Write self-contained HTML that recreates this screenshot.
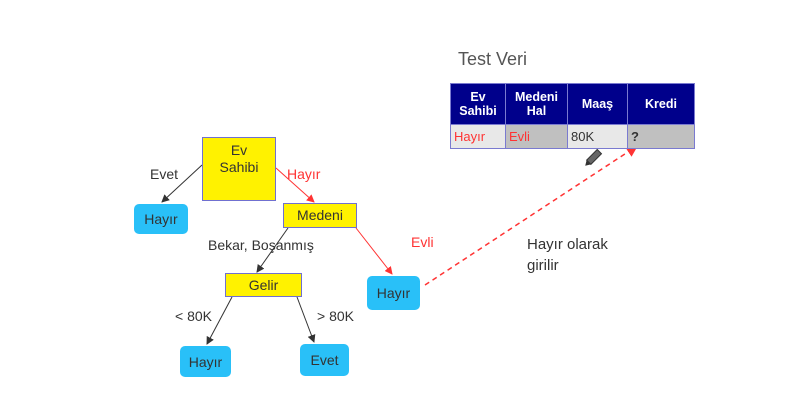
<!DOCTYPE html>
<html><head><meta charset="utf-8"><style>
body{margin:0;width:790px;height:407px;background:#fff;position:relative;overflow:hidden;font-family:"Liberation Sans",sans-serif}
.a{position:absolute}
.y{position:absolute;background:#fff200;border:1.5px solid #7070d0;box-sizing:border-box;color:#333;font-size:14px;text-align:center;display:flex;align-items:center;justify-content:center;line-height:17px}
.b{position:absolute;background:#29c0f8;border-radius:5px;color:#333;font-size:14px;display:flex;align-items:center;justify-content:center}
.t{position:absolute;font-size:14px;color:#333}
table{position:absolute;left:450px;top:83px;border-collapse:collapse;font-size:12.5px}
th{background:#00008b;color:#fff;border:1px solid #7a7ad0;font-weight:bold;height:40px;padding:0;line-height:14px}
td{border:1px solid #7a7ad0;height:23px;padding:0 3px;font-size:13px}
</style></head><body>
<svg class="a" width="790" height="407" style="left:0;top:0">
<defs><marker id="k" markerWidth="8" markerHeight="8" refX="7" refY="4" orient="auto"><path d="M0,0L8,4L0,8z" fill="#333"/></marker>
<marker id="r" markerWidth="8" markerHeight="8" refX="7" refY="4" orient="auto"><path d="M0,0L8,4L0,8z" fill="#f33"/></marker></defs>
<line x1="202" y1="165" x2="162" y2="202" stroke="#333" marker-end="url(#k)"/>
<line x1="276" y1="168" x2="314" y2="202" stroke="#f33" marker-end="url(#r)"/>
<line x1="288" y1="228" x2="257" y2="272" stroke="#333" marker-end="url(#k)"/>
<line x1="356" y1="228" x2="392" y2="274" stroke="#f33" marker-end="url(#r)"/>
<line x1="232" y1="297" x2="207" y2="344" stroke="#333" marker-end="url(#k)"/>
<line x1="297" y1="297" x2="314" y2="342" stroke="#333" marker-end="url(#k)"/>
<line x1="425" y1="285" x2="637" y2="146" stroke="#f33" stroke-width="1.5" stroke-dasharray="5,4" marker-end="url(#r)"/>
<g transform="translate(593,158) rotate(45)"><rect x="-3" y="-9" width="6" height="15" fill="#666" stroke="#333"/><path d="M-3,6L0,11L3,6z" fill="#333"/></g>
</svg>
<div class="y" style="left:202px;top:137px;width:74px;height:64px;align-items:flex-start;padding-top:4px">Ev<br>Sahibi</div>
<div class="y" style="left:283px;top:203px;width:74px;height:25px">Medeni</div>
<div class="y" style="left:225px;top:273px;width:77px;height:24px">Gelir</div>
<div class="b" style="left:134px;top:204px;width:54px;height:30px">Hayır</div>
<div class="b" style="left:367px;top:276px;width:53px;height:34px">Hayır</div>
<div class="b" style="left:180px;top:346px;width:51px;height:31px">Hayır</div>
<div class="b" style="left:300px;top:344px;width:49px;height:32px">Evet</div>
<div class="t" style="left:150px;top:166px">Evet</div>
<div class="t" style="left:287px;top:166px;color:#f33">Hayır</div>
<div class="t" style="left:208px;top:237px">Bekar, Boşanmış</div>
<div class="t" style="left:411px;top:234px;color:#f33">Evli</div>
<div class="t" style="left:175px;top:308px">&lt; 80K</div>
<div class="t" style="left:317px;top:308px">&gt; 80K</div>
<div class="t" style="left:527px;top:234px;line-height:21px;font-size:15px">Hayır olarak<br>girilir</div>
<div class="t" style="left:458px;top:49px;font-size:18px;color:#555">Test Veri</div>
<table>
<tr><th style="width:54px">Ev<br>Sahibi</th><th style="width:61px">Medeni<br>Hal</th><th style="width:59px">Maaş</th><th style="width:66px">Kredi</th></tr>
<tr><td style="background:#e8e8e8;color:#f33">Hayır</td><td style="background:#c0c0c0;color:#f33">Evli</td><td style="background:#e8e8e8;color:#333">80K</td><td style="background:#c0c0c0;font-weight:bold;color:#333">?</td></tr>
</table>
</body></html>
